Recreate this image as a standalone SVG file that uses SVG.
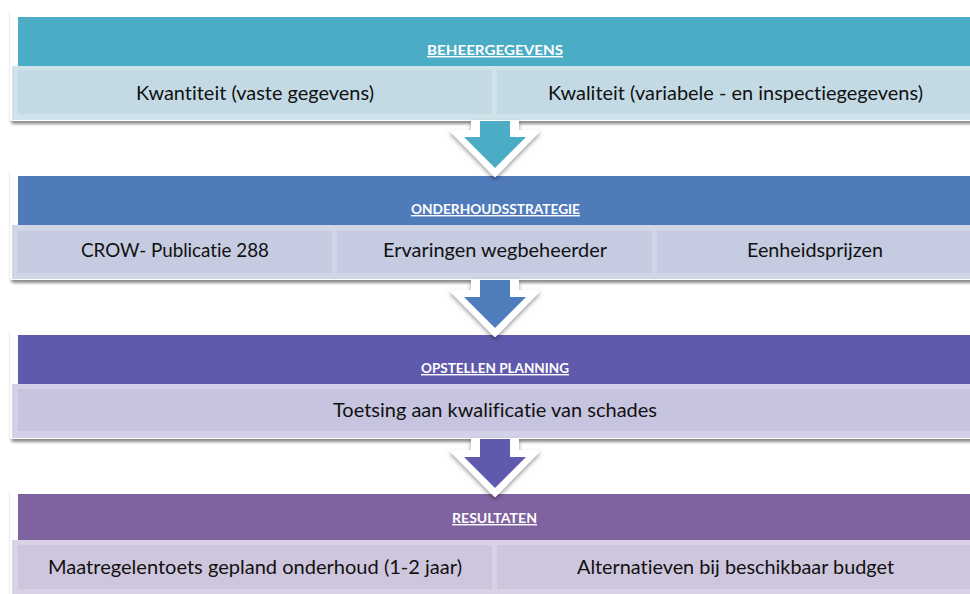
<svg xmlns="http://www.w3.org/2000/svg" width="970" height="594" viewBox="0 0 970 594">
  <defs>
    <filter id="sh" x="-5%" y="-20%" width="110%" height="150%">
      <feDropShadow dx="1" dy="3" stdDeviation="1.5" flood-color="#000" flood-opacity="0.45"/>
    </filter>
    <filter id="ash" x="-30%" y="-30%" width="160%" height="160%">
      <feDropShadow dx="0" dy="2.5" stdDeviation="2" flood-color="#000" flood-opacity="0.4"/>
    </filter>
    <style>
      .card{fill:#ffffff;filter:url(#sh)}
      .hd{font-family:Lato,"Open Sans",sans-serif;font-weight:bold;font-size:14px;fill:#ffffff;text-decoration:underline;text-anchor:middle;font-variant-ligatures:none}
      .tx{font-family:Lato,"Open Sans",sans-serif;font-size:20px;fill:#111111;text-anchor:middle;font-variant-ligatures:none}
      .aw{fill:#ffffff;stroke:#ffffff;stroke-width:2;stroke-linejoin:round}
    </style>
  </defs>
  <rect width="970" height="594" fill="#ffffff"/>

  <g id="beheergegevens">
    <rect class="card" x="10" y="9" width="975" height="112" rx="3"/>
    <rect x="18" y="17" width="960" height="49" fill="#4BACC6"/>
    <text class="hd" x="495" y="55" textLength="136" lengthAdjust="spacingAndGlyphs">BEHEERGEGEVENS</text>
    <rect x="12" y="66" width="970" height="54" fill="#D0E3EB"/>
    <rect x="18" y="70" width="474" height="44" fill="#C3DAE5"/>
    <rect x="497" y="70" width="480" height="44" fill="#C3DAE5"/>
    <text class="tx" x="255" y="99.5" textLength="238" lengthAdjust="spacingAndGlyphs">Kwantiteit (vaste gegevens)</text>
    <text class="tx" x="735.5" y="99.5" textLength="375" lengthAdjust="spacingAndGlyphs">Kwaliteit (variabele - en inspectiegegevens)</text>
  </g>

  <g id="onderhoudsstrategie">
    <rect class="card" x="10" y="169" width="975" height="111" rx="3"/>
    <rect x="18" y="176" width="960" height="49" fill="#4F7BBB"/>
    <text class="hd" x="495.5" y="214" textLength="169" lengthAdjust="spacingAndGlyphs">ONDERHOUDSSTRATEGIE</text>
    <rect x="12" y="225" width="970" height="54" fill="#D1D6E7"/>
    <rect x="18" y="231" width="314" height="42" fill="#C5CBE0"/>
    <rect x="337" y="231" width="315" height="42" fill="#C5CBE0"/>
    <rect x="657" y="231" width="320" height="42" fill="#C5CBE0"/>
    <text class="tx" x="175" y="257" textLength="188" lengthAdjust="spacingAndGlyphs">CROW- Publicatie 288</text>
    <text class="tx" x="495" y="257" textLength="224" lengthAdjust="spacingAndGlyphs">Ervaringen wegbeheerder</text>
    <text class="tx" x="815" y="257" textLength="136" lengthAdjust="spacingAndGlyphs">Eenheidsprijzen</text>
  </g>

  <g id="opstellen-planning">
    <rect class="card" x="10" y="328" width="975" height="111" rx="3"/>
    <rect x="18" y="335" width="960" height="49" fill="#5F5AAD"/>
    <text class="hd" x="495" y="373" textLength="148" lengthAdjust="spacingAndGlyphs">OPSTELLEN PLANNING</text>
    <rect x="12" y="384" width="970" height="54" fill="#D3D1E7"/>
    <rect x="18" y="389" width="960" height="42" fill="#C6C4DE"/>
    <text class="tx" x="495" y="417" textLength="324" lengthAdjust="spacingAndGlyphs">Toetsing aan kwalificatie van schades</text>
  </g>

  <g id="resultaten">
    <rect class="card" x="10" y="487" width="975" height="115" rx="3"/>
    <rect x="18" y="494" width="960" height="46" fill="#7F63A0"/>
    <text class="hd" x="494.5" y="523" textLength="85" lengthAdjust="spacingAndGlyphs">RESULTATEN</text>
    <rect x="12" y="540" width="970" height="60" fill="#D9D1E5"/>
    <rect x="18" y="545" width="474" height="44" fill="#CEC6DD"/>
    <rect x="497" y="545" width="480" height="44" fill="#CEC6DD"/>
    <text class="tx" x="255" y="574" textLength="414" lengthAdjust="spacingAndGlyphs">Maatregelentoets gepland onderhoud (1-2 jaar)</text>
    <text class="tx" x="735.5" y="574" textLength="317" lengthAdjust="spacingAndGlyphs">Alternatieven bij beschikbaar budget</text>
  </g>

  <g id="connectors">
    <g filter="url(#ash)">
      <polygon class="aw" points="472,121 518,121 518,131 539,131 495,176 451,131 472,131"/>
      <polygon fill="#4BACC6" points="480,121 510,121 510,137 526,137 495,168 464,137 480,137"/>
    </g>
    <g filter="url(#ash)">
      <polygon class="aw" points="472,280 518,280 518,291 539,291 495,336 451,291 472,291"/>
      <polygon fill="#4F7BBB" points="480,280 510,280 510,297 526,297 495,328 464,297 480,297"/>
    </g>
    <g filter="url(#ash)">
      <polygon class="aw" points="472,439 518,439 518,451 539,451 495,496 451,451 472,451"/>
      <polygon fill="#5F5AAD" points="480,439 510,439 510,457 526,457 495,488 464,457 480,457"/>
    </g>
  </g>
</svg>
